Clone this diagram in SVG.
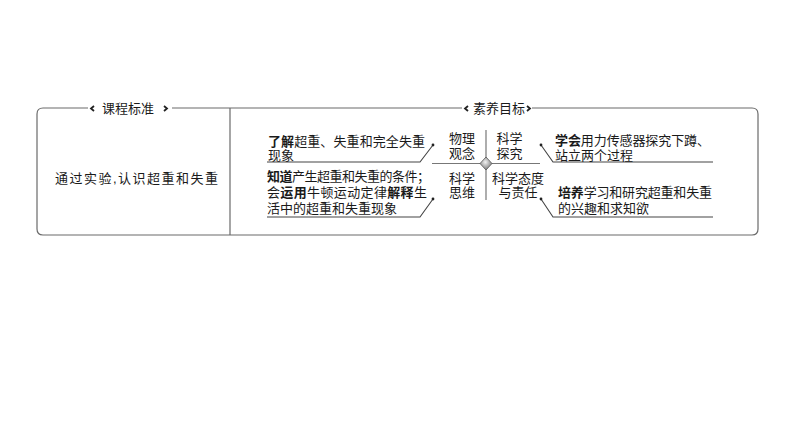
<svg xmlns="http://www.w3.org/2000/svg" width="794" height="447" viewBox="0 0 794 447">
<style>
.t{font-family:"Liberation Sans","Noto Sans CJK SC",sans-serif;fill:#1a1a1a;font-size:13px}
.b{font-weight:bold}
.c{text-anchor:middle}
.frame{fill:none;stroke:#6a6a6a;stroke-width:1.2}
.chev{fill:none;stroke:#222;stroke-width:1.8}
.ul{fill:none;stroke:#444;stroke-width:1.1}
.ax{fill:none;stroke:#777;stroke-width:1.2}
</style>
<defs>
<radialGradient id="dg" cx="0.45" cy="0.4" r="0.6">
<stop offset="0" stop-color="#f2f2f2"/>
<stop offset="1" stop-color="#7a7a7a"/>
</radialGradient>
</defs>
<rect width="794" height="447" fill="#fff"/>
<g id="frame">
<path class="frame" d="M88,108 H43 Q37,108 37,114 V229 Q37,235 43,235 H752 Q758,235 758,229 V114 Q758,108 752,108 H532"/>
<path class="frame" d="M172,108 H462"/>
<path class="frame" d="M230,108 V235"/>
</g>
<g id="title-standard">
<polyline class="chev" points="94,106 91,108.5 94,111"/>
<text class="t" x="102" y="112.7" font-size="12.5">课程标准</text>
<polyline class="chev" points="164,106 167,108.5 164,111"/>
</g>
<g id="title-goals">
<polyline class="chev" points="468,106 465,108.5 468,111"/>
<text class="t" x="473" y="112.7" font-size="12.5">素养目标</text>
<polyline class="chev" points="527,106 530,108.5 527,111"/>
</g>
<g id="standard-text">
<text class="t" x="55" y="183" font-size="14" textLength="163" lengthAdjust="spacing">通过实验,认识超重和失重</text>
</g>
<g id="connectors">
<path class="ax" d="M432,163.5 H540"/>
<path class="ax" d="M486,130 V200"/>
<path class="ul" d="M267,162 H420 L433,145"/>
<path class="ul" d="M267,217 H420 L433,199"/>
<path class="ul" d="M713,162 H553 L541,145"/>
<path class="ul" d="M713,217 H553 L541,199"/>
<circle cx="433" cy="145" r="1.4" fill="#222"/>
<circle cx="433" cy="199" r="1.4" fill="#222"/>
<circle cx="541" cy="145" r="1.4" fill="#222"/>
<circle cx="541" cy="199" r="1.4" fill="#222"/>
</g>
<g id="center-diamond">
<polygon points="486,157 492,163.5 486,170 480,163.5" fill="url(#dg)" stroke="#555" stroke-width="0.8"/>
</g>
<g id="label-physics-concept">
<text class="t c" x="462" y="143">物理</text>
<text class="t c" x="462" y="158">观念</text>
</g>
<g id="label-science-inquiry">
<text class="t c" x="509.5" y="143">科学</text>
<text class="t c" x="509.5" y="158">探究</text>
</g>
<g id="label-science-thinking">
<text class="t c" x="462" y="182.5">科学</text>
<text class="t c" x="462" y="197">思维</text>
</g>
<g id="label-attitude">
<text class="t c" x="518" y="182.5">科学态度</text>
<text class="t c" x="518" y="197">与责任</text>
</g>
<g id="goal-concept">
<text class="t" x="268" y="146" textLength="157" lengthAdjust="spacing"><tspan class="b">了解</tspan>超重、失重和完全失重</text>
<text class="t" x="268" y="160">现象</text>
</g>
<g id="goal-thinking">
<text class="t" x="267" y="181" textLength="163" lengthAdjust="spacing"><tspan class="b">知道</tspan>产生超重和失重的条件；</text>
<text class="t" x="267" y="197" textLength="160" lengthAdjust="spacing">会<tspan class="b">运用</tspan>牛顿运动定律<tspan class="b">解释</tspan>生</text>
<text class="t" x="267" y="212.5">活中的超重和失重现象</text>
</g>
<g id="goal-inquiry">
<text class="t" x="555" y="145" textLength="155" lengthAdjust="spacing"><tspan class="b">学会</tspan>用力传感器探究下蹲、</text>
<text class="t" x="555" y="160">站立两个过程</text>
</g>
<g id="goal-attitude">
<text class="t" x="558" y="197" textLength="154" lengthAdjust="spacing"><tspan class="b">培养</tspan>学习和研究超重和失重</text>
<text class="t" x="558" y="213">的兴趣和求知欲</text>
</g>
</svg>
